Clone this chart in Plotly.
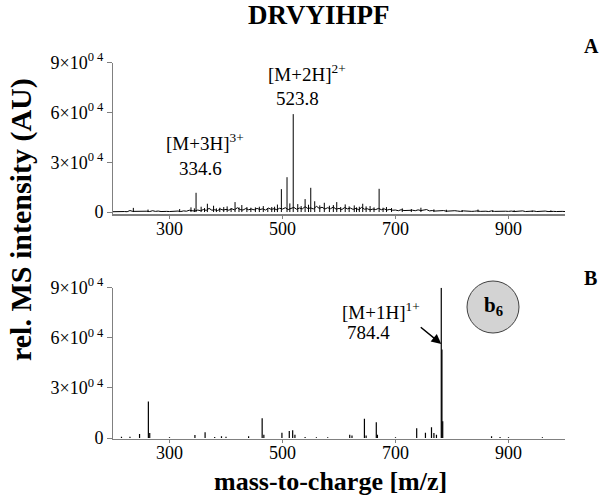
import plotly.graph_objects as go

# panel A: baseline noise, sampled every 5 m/z from 200 to 1000 (intensity in AU)
noise_a_start = 200
noise_a_step = 5
noise_a = [
    0.2, 0.3, 0.2, 0.4, 0.3, 0.2, 0.9, 0.4, 0.5, 0.3,
    0.6, 0.4, 0.5, 0.3, 0.8, 0.4, 0.6, 0.3, 0.5, 0.4,
    0.3, 0.5, 0.4, 0.6, 0.3, 0.7, 0.5, 1.1, 0.8, 0.6,
    1.2, 0.8, 1.5, 1.0, 2.2, 1.1, 1.4, 0.9, 1.8, 1.2,
    1.6, 1.1, 2.0, 1.3, 2.6, 1.5, 1.2, 2.1, 1.4, 1.8,
    1.3, 2.2, 1.5, 1.9, 1.2, 2.4, 1.6, 2.0, 1.4, 2.3,
    1.8, 2.6, 1.5, 2.0, 2.8, 1.7, 2.4, 1.9, 3.2, 2.1,
    2.5, 1.8, 3.5, 2.2, 2.9, 1.8, 2.6, 2.0, 3.0, 1.7,
    2.2, 1.5, 2.7, 1.9, 2.4, 1.6, 2.2, 1.4, 2.8, 1.7,
    2.0, 1.3, 1.8, 1.5, 2.2, 1.4, 1.9, 1.2, 1.6, 1.1,
    1.2, 0.8, 1.4, 0.9, 1.0, 0.7, 1.1, 0.8, 1.3, 0.9,
    1.0, 1.5, 0.7, 0.9, 0.6, 0.8, 0.6, 0.9, 0.5, 0.7,
    0.5, 0.8, 0.6, 0.4, 0.7, 0.5, 0.6, 0.4, 0.5, 0.7,
    0.4, 0.6, 0.5, 0.3, 0.7, 0.4, 0.5, 0.6, 0.4, 0.5,
    0.4, 0.6, 0.3, 0.5, 0.4, 0.7, 0.3, 0.5, 0.4, 0.6,
    0.3, 0.5, 0.4, 0.6, 0.3, 0.5, 0.4, 0.3, 0.5, 0.4,
    0.3,
]
noise_a = [v * 1000 for v in noise_a]
noise_a_mz = [noise_a_start + i * noise_a_step for i in range(len(noise_a))]

# panel A: small spikes riding on the baseline
spikes_a_mz = [236, 262, 318, 338, 344, 356, 362, 378, 383, 389, 396, 402, 409,
               423, 428, 437, 444, 452, 459, 466, 474, 481, 486, 491, 513, 527,
               533, 546, 557, 566, 574, 583, 590, 603, 611, 618, 627, 631, 636,
               648, 655, 662, 678, 684, 693, 712, 728, 745, 768, 790, 818, 846,
               872, 910, 942, 975]
spikes_a_int = [2500, 1500, 1800, 2800, 2200, 3200, 2400, 3800, 2200, 2600, 3000, 3400, 2400,
                2800, 4200, 3000, 2600, 2800, 3200, 3600, 2400, 3000, 3200, 4500, 5200, 4800,
                3600, 4400, 6500, 4000, 5600, 3800, 4200, 3000, 4600, 3400, 4000, 2800, 3200,
                3400, 3600, 2800, 2600, 3000, 2400, 2200, 1800, 2600, 1600, 1400, 1200, 1500,
                1000, 1100, 900, 1000]

# panel A: distinct peaks
peaks_a_mz = [347, 367, 416, 498, 508, 519, 540, 550, 596, 642, 671]
peaks_a_int = [11600, 5000, 6000, 13800, 21000, 59000, 7800, 14600, 6000, 5000, 14000]

# panel B: stick spectrum of the b6 fragment scan
peaks_b_mz = [215, 230, 247, 262.6, 265, 300, 345, 363, 380, 392, 400, 440,
              464, 467, 499, 512, 518, 522, 540, 560, 580, 619, 623, 645,
              648, 666, 668, 700, 737.5, 753, 763.7, 768, 772.5, 781,
              782.2, 783.6, 870, 885, 900, 960]
peaks_b_int = [800, 700, 2400, 21800, 3000, 500, 1800, 3400, 600, 1000, 800, 1000,
               11800, 2000, 3200, 4200, 4600, 2000, 600, 500, 400, 2000, 1500, 11600,
               1500, 9400, 2000, 500, 5800, 3200, 6400, 3000, 2000, 90000,
               53000, 10000, 1000, 600, 500, 400]

y_tickvals = [0, 30000, 60000, 90000]
y_ticktext = ["0", "3×10<sup>0 4</sup>", "6×10<sup>0 4</sup>", "9×10<sup>0 4</sup>"]
x_tickvals = [300, 500, 700, 900]

SERIF = "Liberation Serif, Times New Roman, serif"


def sticks(mz, inten):
    xs, ys = [], []
    for m, h in zip(mz, inten):
        xs += [m, m, None]
        ys += [0, h, None]
    return xs, ys


fig = go.Figure()

fig.add_trace(go.Scatter(x=noise_a_mz, y=noise_a, mode="lines",
                         line=dict(color="black", width=1),
                         xaxis="x", yaxis="y", showlegend=False))
sx, sy = sticks(spikes_a_mz + peaks_a_mz, spikes_a_int + peaks_a_int)
fig.add_trace(go.Scatter(x=sx, y=sy, mode="lines",
                         line=dict(color="black", width=1),
                         xaxis="x", yaxis="y", showlegend=False))
sx, sy = sticks(peaks_b_mz, peaks_b_int)
fig.add_trace(go.Scatter(x=sx, y=sy, mode="lines",
                         line=dict(color="black", width=1.2),
                         xaxis="x2", yaxis="y2", showlegend=False))

xdom = [113 / 600, 565 / 600]
axis_common = dict(
    showgrid=False, zeroline=False, showline=True, linecolor="#808080",
    ticks="outside", tickcolor="#808080",
    tickfont=dict(family=SERIF, size=18, color="black"),
)

fig.update_layout(
    width=600, height=499,
    template="none",
    paper_bgcolor="white", plot_bgcolor="white",
    margin=dict(l=0, r=0, t=0, b=0),
    xaxis=dict(domain=xdom, range=[200, 1000], anchor="y", ticklen=3,
               ticklabelstandoff=-5,
               tickvals=x_tickvals, linewidth=2, **axis_common),
    yaxis=dict(domain=[1 - 213.7 / 499, 1 - 62.7 / 499], range=[-1000, 90000],
               anchor="x", tickvals=y_tickvals, ticktext=y_ticktext, ticklen=5,
               linewidth=1, **axis_common),
    xaxis2=dict(domain=xdom, range=[200, 1000], anchor="y2", ticklen=3,
                ticklabelstandoff=-5,
                tickvals=x_tickvals, linewidth=1, **axis_common),
    yaxis2=dict(domain=[1 - 438.5 / 499, 1 - 287.7 / 499], range=[-300, 90000],
                anchor="x2", tickvals=y_tickvals, ticktext=y_ticktext, ticklen=5,
                linewidth=1, **axis_common),
    font=dict(family=SERIF, color="black"),
)


def px_x(p):
    return p / 600


def px_y(p):
    return 1 - p / 499


notes = [
    # title and panel letters
    dict(text="<b>DRVYIHPF</b>", x=px_x(319), y=px_y(15), size=27),
    dict(text="<b>A</b>", x=px_x(591), y=px_y(46), size=20),
    dict(text="<b>B</b>", x=px_x(590), y=px_y(278), size=20),
    # axis title
    dict(text="<b>mass-to-charge [m/z]</b>", x=px_x(330), y=px_y(481), size=26),
    # ion labels panel A
    dict(text="[M+2H]<sup>2+</sup>", x=px_x(307), y=px_y(73), size=19),
    dict(text="523.8", x=px_x(297), y=px_y(99), size=19),
    dict(text="[M+3H]<sup>3+</sup>", x=px_x(205), y=px_y(142), size=19),
    dict(text="334.6", x=px_x(200), y=px_y(168), size=19),
    # ion labels panel B
    dict(text="[M+1H]<sup>1+</sup>", x=px_x(381), y=px_y(311), size=19),
    dict(text="784.4", x=px_x(368), y=px_y(332), size=19),
    dict(text="<b>b<sub>6</sub></b>", x=px_x(493), y=px_y(306), size=21),
]
for n in notes:
    fig.add_annotation(text=n["text"], x=n["x"], y=n["y"], xref="paper", yref="paper",
                       showarrow=False, xanchor="center", yanchor="middle",
                       font=dict(family=SERIF, size=n["size"], color="black"))

fig.add_annotation(text="<b>rel. MS intensity (AU)</b>", x=px_x(21), y=px_y(220),
                   xref="paper", yref="paper", showarrow=False, textangle=-90,
                   xanchor="center", yanchor="middle",
                   font=dict(family=SERIF, size=30, color="black"))

# arrow to the precursor peak
fig.add_annotation(x=781, y=56300, xref="x2", yref="y2", ax=-22, ay=-18,
                   showarrow=True, arrowhead=2, arrowsize=1.3, arrowwidth=1.5,
                   arrowcolor="black", text="")

# circle badge
fig.add_shape(type="circle", xref="paper", yref="paper",
              x0=px_x(467), x1=px_x(519), y0=px_y(333), y1=px_y(281),
              fillcolor="#d3d3d3", line=dict(color="#404040", width=1), layer="below")

fig.write_html("out.html", config={"displayModeBar": False},
               post_script="document.body.style.margin='0px';")
